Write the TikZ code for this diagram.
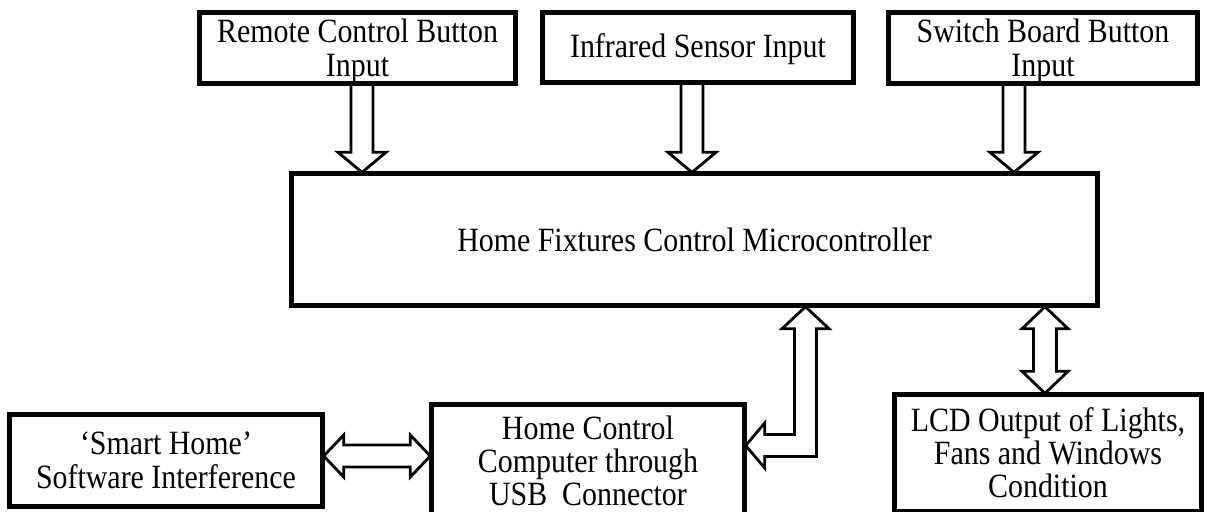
\documentclass[tikz,border=0pt]{standalone}
\usepackage{fontspec}
\setmainfont[FakeStretch=0.88]{Liberation Serif}
\usetikzlibrary{calc}
\begin{document}
\begin{tikzpicture}[x=0.5pt,y=-0.5pt,
  box/.style={draw, line width=1.7pt, inner sep=0pt},
  txt/.style={inner sep=0pt, align=center, font=\fontsize{17}{17}\selectfont},
  blk/.style={draw, line width=1.4pt, fill=white, line join=miter}]
\useasboundingbox (0,0) rectangle (1212,511);
\clip (0,0) rectangle (1212,511);

% blocks (text set as a centred label so it can be nudged inside its frame)
\node[box, minimum width=157.5pt, minimum height=35pt,
  label={[txt, yshift=-1.5pt]center:{Remote Control Button\\Input}}] (rem) at (357.5,48) {};
\node[box, minimum width=155pt, minimum height=34.5pt,
  label={[txt, yshift=-1pt]center:{Infrared Sensor Input}}] (ir) at (698,47.5) {};
\node[box, minimum width=154pt, minimum height=35pt,
  label={[txt, yshift=-1.5pt]center:{Switch Board Button\\Input}}] (sw) at (1043,48) {};
\node[box, minimum width=402.5pt, minimum height=65.5pt,
  label={[txt]center:{Home Fixtures Control Microcontroller}}] (mcu) at (694.5,239.5) {};
\node[box, minimum width=156pt, minimum height=45.5pt,
  label={[txt]center:{‘Smart Home’\\Software Interference}}] (sh) at (166,460.5) {};
\node[box, minimum width=156pt, minimum height=56pt,
  label={[txt, font=\fontsize{17}{16.5}\selectfont]center:{Home Control\\Computer through\\USB\ \ Connector}}] (hc) at (588,461) {};
\node[box, minimum width=153pt, minimum height=58pt,
  label={[txt, font=\fontsize{17}{16.5}\selectfont]center:{LCD Output of Lights,\\Fans and Windows\\Condition}}] (lcd) at (1048,453) {};

% input arrows into the microcontroller
\foreach \src/\dx in {rem/4.5, ir/-6, sw/-29}{
  \draw[blk] let \p1=($(\src.south)+(\dx,0)$), \p2=(mcu.north) in
    (\x1-5.5pt,\y1) -- (\x1-5.5pt,\y2+10pt) -- (\x1-12pt,\y2+10pt) -- (\x1,\y2)
    -- (\x1+12pt,\y2+10pt) -- (\x1+5.5pt,\y2+10pt) -- (\x1+5.5pt,\y1);
}

% microcontroller <-> LCD
\draw[blk] let \p1=($(lcd.north)+(-3,0)$), \p2=(mcu.south) in
  (\x1,\y1) -- (\x1-11.5pt,\y1+11pt) -- (\x1-5.75pt,\y1+11pt) -- (\x1-5.75pt,\y2-11pt)
  -- (\x1-11.5pt,\y2-11pt) -- (\x1,\y2) -- (\x1+11.5pt,\y2-11pt) -- (\x1+5.75pt,\y2-11pt)
  -- (\x1+5.75pt,\y1+11pt) -- (\x1+11.5pt,\y1+11pt) -- cycle;

% software <-> computer
\draw[blk] let \p1=($(sh.east)+(0,-4.5)$), \p2=(hc.west) in
  (\x1,\y1) -- (\x1+10pt,\y1+10.5pt) -- (\x1+10pt,\y1+5.5pt) -- (\x2-10pt,\y1+5.5pt)
  -- (\x2-10pt,\y1+10.5pt) -- (\x2,\y1) -- (\x2-10pt,\y1-10.5pt) -- (\x2-10pt,\y1-5.5pt)
  -- (\x1+10pt,\y1-5.5pt) -- (\x1+10pt,\y1-10.5pt) -- cycle;

% computer <-> microcontroller (elbow)
\draw[blk] let \p1=($(hc.east)+(0,-15.5)$), \p2=($(mcu.south)+(111,0)$) in
  (\x1,\y1) -- (\x1+9.5pt,\y1+11.25pt) -- (\x1+9.5pt,\y1+5.5pt) -- (\x2-5.5pt,\y1+5.5pt)
  -- (\x2-5.5pt,\y2-11pt) -- (\x2-11.75pt,\y2-11pt) -- (\x2,\y2) -- (\x2+11.75pt,\y2-11pt)
  -- (\x2+5.5pt,\y2-11pt) -- (\x2+5.5pt,\y1-5.5pt) -- (\x1+9.5pt,\y1-5.5pt)
  -- (\x1+9.5pt,\y1-11.25pt) -- cycle;

% block outlines drawn over the arrow ends
\foreach \n in {rem,ir,sw,mcu,sh,hc,lcd}{
  \draw[line width=1.7pt] (\n.north west) rectangle (\n.south east);
}
\end{tikzpicture}
\end{document}
